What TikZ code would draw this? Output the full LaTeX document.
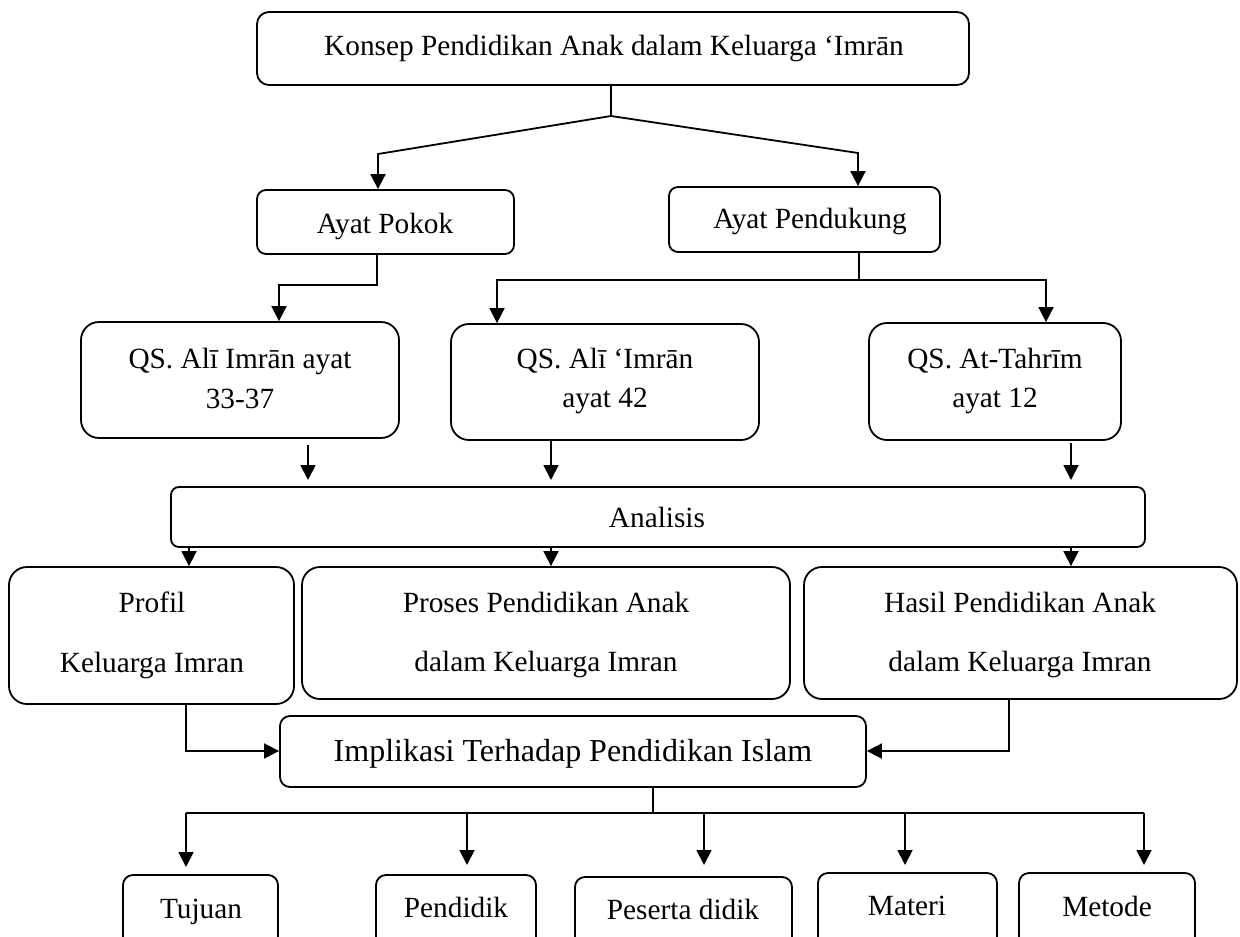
\documentclass[tikz,border=0pt]{standalone}
\usepackage{fontspec}
\setmainfont{Liberation Serif}
\usetikzlibrary{arrows.meta,fit}
\begin{document}
\begin{tikzpicture}[x=1pt,y=-1pt,
  box/.style={draw, line width=1.8pt, rounded corners=#1, inner sep=0pt},
  box/.default=10pt,
  txt/.style={font=\fontsize{29.3}{35}\selectfont, inner sep=0pt, anchor=base},
  bigtxt/.style={font=\fontsize{32}{38}\selectfont, inner sep=0pt, anchor=base},
  link/.style={line width=1.8pt},
  arr/.style={line width=1.8pt, -{Triangle[length=15pt,width=15pt]}}]
\useasboundingbox (0,0) rectangle (1240,937);
\clip (0,0) rectangle (1240,937);
% boxes
\node[box=12pt, fit={(257,12)(969,85)}] (top) {};
\node[box=9pt, fit={(257,190)(514,254)}] (pokok) {};
\node[box=9pt, fit={(669,187)(940,252)}] (pend) {};
\node[box=18pt, fit={(81,322)(399,438)}] (qs1) {};
\node[box=18pt, fit={(451,324)(759,440)}] (qs2) {};
\node[box=18pt, fit={(869,323)(1121,440)}] (qs3) {};
\node[box=8pt, fit={(171,487)(1145,547)}] (analisis) {};
\node[box=18pt, fit={(9,567)(294,704)}] (profil) {};
\node[box=18pt, fit={(302,567)(790,699)}] (proses) {};
\node[box=18pt, fit={(804,567)(1237,699)}] (hasil) {};
\node[box=10pt, fit={(280,716)(866,787)}] (impl) {};
\node[box=10pt, fit={(123,875)(278,960)}] (tujuan) {};
\node[box=10pt, fit={(376,875)(536,960)}] (pendidik) {};
\node[box=10pt, fit={(575,877)(792,960)}] (peserta) {};
\node[box=10pt, fit={(818,873)(997,960)}] (materi) {};
\node[box=10pt, fit={(1019,873)(1195,960)}] (metode) {};
% texts
\node[txt] (topt) at (614,55) {Konsep Pendidikan Anak dalam Keluarga ‘Imrān};
\node[txt] (pokokt) at (385,233) {Ayat Pokok};
\node[txt] (pendt) at (810,228) {Ayat Pendukung};
\node[txt] (qs1a) at (240,368) {QS. Alī Imrān ayat};
\node[txt] (qs1b) at (240,408) {33-37};
\node[txt] (qs2a) at (605,368) {QS. Alī ‘Imrān};
\node[txt] (qs2b) at (605,407) {ayat 42};
\node[txt] (qs3a) at (995,368) {QS. At-Tahrīm};
\node[txt] (qs3b) at (995,407) {ayat 12};
\node[txt] (analisist) at (657,527) {Analisis};
\node[txt] (profila) at (152,612) {Profil};
\node[txt] (profilb) at (152,672) {Keluarga Imran};
\node[txt] (prosesa) at (546,612) {Proses Pendidikan Anak};
\node[txt] (prosesb) at (546,671) {dalam Keluarga Imran};
\node[txt] (hasila) at (1020,612) {Hasil Pendidikan Anak};
\node[txt] (hasilb) at (1020,671) {dalam Keluarga Imran};
\node[bigtxt] (implt) at (573,761) {Implikasi Terhadap Pendidikan Islam};
\node[txt] (tujuant) at (201,918) {Tujuan};
\node[txt] (pendidikt) at (456,917) {Pendidik};
\node[txt] (pesertat) at (683,919) {Peserta didik};
\node[txt] (materit) at (907,915) {Materi};
\node[txt] (metodet) at (1107,916) {Metode};
% connectors: top level
\coordinate (j1) at (611,116);
\coordinate (e1) at (378,154);
\coordinate (e2) at (858,153);
\draw[link] (j1 |- top.south) -- (j1);
\draw[arr] (j1) -- (e1) -- (e1 |- pokok.north);
\draw[arr] (j1) -- (e2) -- (e2 |- pend.north);
% ayat pokok
\coordinate (e3) at (377,285);
\coordinate (e4) at (279,285);
\draw[arr] (e3 |- pokok.south) -- (e3) -- (e4) -- (e4 |- qs1.north);
% ayat pendukung
\coordinate (e5) at (859,280);
\coordinate (e6) at (497,280);
\coordinate (e7) at (1046,280);
\draw[link] (e5 |- pend.south) -- (e5);
\draw[arr] (e5) -- (e6) -- (e6 |- qs2.north);
\draw[arr] (e5) -- (e7) -- (e7 |- qs3.north);
% qs -> analisis (tips stop just above the box)
\coordinate (a1) at (308,445);
\coordinate (a2) at (551,440);
\coordinate (a3) at (1071,443);
\coordinate (h) at (0,480);
\draw[arr] (a1) -- (a1 |- h);
\draw[arr] (a2 |- qs2.south) -- (a2 |- h);
\draw[arr] (a3) -- (a3 |- h);
% analisis -> row
\coordinate (d1) at (189,550);
\coordinate (d2) at (551,550);
\coordinate (d3) at (1071,550);
\draw[arr] (d1 |- analisis.south) -- (d1 |- profil.north);
\draw[arr] (d2 |- analisis.south) -- (d2 |- proses.north);
\draw[arr] (d3 |- analisis.south) -- (d3 |- hasil.north);
% row -> implikasi
\coordinate (c1) at (186,751);
\coordinate (c2) at (1009,751);
\draw[arr] (c1 |- profil.south) -- (c1) -- (c1 -| impl.west);
\draw[arr] (c2 |- hasil.south) -- (c2) -- (c2 -| impl.east);
% implikasi -> bottom
\coordinate (b0) at (653,813);
\coordinate (bl) at (186,813);
\coordinate (br) at (1144,813);
\draw[link] (b0 |- impl.south) -- (b0);
\draw[link] (bl) -- (br);
\coordinate (t1) at (186,867);
\coordinate (t2) at (467,865);
\coordinate (t3) at (704,865);
\coordinate (t4) at (905,865);
\coordinate (t5) at (1144,865);
\draw[arr] (bl) -- (t1);
\draw[arr] (t2 |- bl) -- (t2);
\draw[arr] (t3 |- bl) -- (t3);
\draw[arr] (t4 |- bl) -- (t4);
\draw[arr] (br) -- (t5);
\end{tikzpicture}
\end{document}
